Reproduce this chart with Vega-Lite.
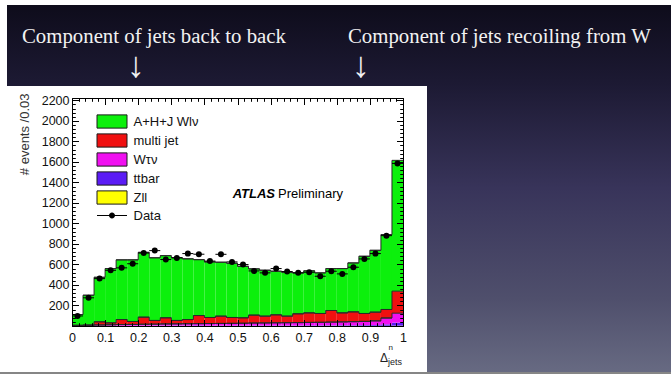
{
  "$schema": "https://vega.github.io/schema/vega-lite/v6.json",
  "width": 331,
  "height": 228,
  "autosize": "none",
  "padding": {"left": 72, "top": 98, "right": 268, "bottom": 49},
  "background": "#ffffff",
  "config": {
    "view": {"stroke": null},
    "font": "Liberation Sans",
    "axis": {"grid": false, "domainColor": "#000000", "domainWidth": 1, "tickColor": "#000000", "tickWidth": 1, "labelFont": "Liberation Sans", "labelFontSize": 12.5, "labelColor": "#111111", "titleFont": "Liberation Sans"}
  },
  "data": {
    "values": [
      {"lo": 0, "hi": 0.0333, "zll": 1, "tt": 1, "wtn": 2, "mj": 3, "wlnu": 105, "data": 98},
      {"lo": 0.0333, "hi": 0.0667, "zll": 1, "tt": 1, "wtn": 3, "mj": 5, "wlnu": 290, "data": 275},
      {"lo": 0.0667, "hi": 0.1, "zll": 1, "tt": 2, "wtn": 7, "mj": 31, "wlnu": 434, "data": 462},
      {"lo": 0.1, "hi": 0.1333, "zll": 1, "tt": 2, "wtn": 9, "mj": 19, "wlnu": 529, "data": 543},
      {"lo": 0.1333, "hi": 0.1667, "zll": 1, "tt": 2, "wtn": 11, "mj": 49, "wlnu": 582, "data": 567},
      {"lo": 0.1667, "hi": 0.2, "zll": 1, "tt": 2, "wtn": 12, "mj": 29, "wlnu": 601, "data": 607},
      {"lo": 0.2, "hi": 0.2333, "zll": 1, "tt": 2, "wtn": 14, "mj": 69, "wlnu": 632, "data": 711},
      {"lo": 0.2333, "hi": 0.2667, "zll": 1, "tt": 2, "wtn": 15, "mj": 36, "wlnu": 611, "data": 735},
      {"lo": 0.2667, "hi": 0.3, "zll": 1, "tt": 3, "wtn": 16, "mj": 60, "wlnu": 606, "data": 648},
      {"lo": 0.3, "hi": 0.3333, "zll": 1, "tt": 3, "wtn": 17, "mj": 33, "wlnu": 613, "data": 664},
      {"lo": 0.3333, "hi": 0.3667, "zll": 1, "tt": 3, "wtn": 18, "mj": 41, "wlnu": 592, "data": 706},
      {"lo": 0.3667, "hi": 0.4, "zll": 1, "tt": 3, "wtn": 19, "mj": 79, "wlnu": 545, "data": 700},
      {"lo": 0.4, "hi": 0.4333, "zll": 1, "tt": 3, "wtn": 20, "mj": 59, "wlnu": 542, "data": 633},
      {"lo": 0.4333, "hi": 0.4667, "zll": 1, "tt": 3, "wtn": 21, "mj": 71, "wlnu": 526, "data": 699},
      {"lo": 0.4667, "hi": 0.5, "zll": 1, "tt": 3, "wtn": 22, "mj": 57, "wlnu": 529, "data": 625},
      {"lo": 0.5, "hi": 0.5333, "zll": 1, "tt": 3, "wtn": 23, "mj": 53, "wlnu": 502, "data": 599},
      {"lo": 0.5333, "hi": 0.5667, "zll": 1, "tt": 4, "wtn": 24, "mj": 77, "wlnu": 451, "data": 537},
      {"lo": 0.5667, "hi": 0.6, "zll": 1, "tt": 4, "wtn": 25, "mj": 66, "wlnu": 448, "data": 518},
      {"lo": 0.6, "hi": 0.6333, "zll": 1, "tt": 4, "wtn": 26, "mj": 78, "wlnu": 425, "data": 560},
      {"lo": 0.6333, "hi": 0.6667, "zll": 1, "tt": 4, "wtn": 27, "mj": 64, "wlnu": 428, "data": 531},
      {"lo": 0.6667, "hi": 0.7, "zll": 1, "tt": 4, "wtn": 28, "mj": 86, "wlnu": 399, "data": 518},
      {"lo": 0.7, "hi": 0.7333, "zll": 1, "tt": 5, "wtn": 29, "mj": 93, "wlnu": 410, "data": 524},
      {"lo": 0.7333, "hi": 0.7667, "zll": 1, "tt": 5, "wtn": 30, "mj": 86, "wlnu": 396, "data": 485},
      {"lo": 0.7667, "hi": 0.8, "zll": 2, "tt": 5, "wtn": 31, "mj": 113, "wlnu": 409, "data": 534},
      {"lo": 0.8, "hi": 0.8333, "zll": 2, "tt": 6, "wtn": 32, "mj": 88, "wlnu": 432, "data": 508},
      {"lo": 0.8333, "hi": 0.8667, "zll": 2, "tt": 6, "wtn": 34, "mj": 96, "wlnu": 477, "data": 573},
      {"lo": 0.8667, "hi": 0.9, "zll": 2, "tt": 7, "wtn": 36, "mj": 77, "wlnu": 558, "data": 654},
      {"lo": 0.9, "hi": 0.9333, "zll": 2, "tt": 8, "wtn": 40, "mj": 85, "wlnu": 603, "data": 706},
      {"lo": 0.9333, "hi": 0.9667, "zll": 2, "tt": 14, "wtn": 62, "mj": 83, "wlnu": 730, "data": 881},
      {"lo": 0.9667, "hi": 1, "zll": 3, "tt": 30, "wtn": 92, "mj": 215, "wlnu": 1275, "data": 1585}
    ]
  },
  "transform": [
    {"fold": ["zll", "tt", "wtn", "mj", "wlnu"], "as": ["key", "n"]},
    {"lookup": "key", "from": {"data": {"values": [
      {"key": "zll", "rank": 1, "name": "Zll"},
      {"key": "tt", "rank": 2, "name": "ttbar"},
      {"key": "wtn", "rank": 3, "name": "Wτν"},
      {"key": "mj", "rank": 4, "name": "multi jet"},
      {"key": "wlnu", "rank": 5, "name": "A+H+J Wlν"}
    ]}, "key": "key", "fields": ["rank", "name"]}},
    {"stack": "n", "groupby": ["lo"], "sort": [{"field": "rank", "order": "ascending"}], "as": ["v0", "v1"]}
  ],
  "resolve": {"axis": {"x": "independent", "y": "independent"}},
  "layer": [
    {
      "data": {"values": [{}]},
      "mark": {"type": "rect", "fill": {"gradient": "linear", "x1": 0, "y1": 0, "x2": 0, "y2": 1, "stops": [
        {"offset": 0, "color": "#0e0c1b"},
        {"offset": 0.22, "color": "#1d1a34"},
        {"offset": 0.5, "color": "#38345a"},
        {"offset": 0.8, "color": "#4f4f6c"},
        {"offset": 1, "color": "#676a82"}
      ]}},
      "encoding": {"x": {"value": -65}, "x2": {"value": 599}, "y": {"value": -93}, "y2": {"value": 274}}
    },
    {
      "data": {"values": [{}]},
      "mark": {"type": "rect", "fill": "#ffffff"},
      "encoding": {"x": {"value": -72}, "x2": {"value": 355}, "y": {"value": -12}, "y2": {"value": 274}}
    },
    {
      "data": {"values": [{}]},
      "mark": {"type": "rule", "color": "#5e5e5e", "strokeWidth": 1.5},
      "encoding": {"x": {"value": -72}, "x2": {"value": 599}, "y": {"value": 275}}
    },
    {
      "mark": {"type": "rect"},
      "encoding": {
        "x": {"field": "lo", "type": "quantitative", "scale": {"domain": [0, 1], "nice": false, "zero": false},
          "axis": {"orient": "bottom", "zindex": 2, "values": [0, 0.1, 0.2, 0.3, 0.4, 0.5, 0.6, 0.7, 0.8, 0.9, 1], "format": "~g", "ticks": false, "tickSize": 0, "domain": true, "labelPadding": 5, "labelFlush": false, "labelOverlap": false, "title": null}},
        "x2": {"field": "hi"},
        "y": {"field": "v1", "type": "quantitative", "scale": {"domain": [0, 2223], "nice": false},
          "axis": {"orient": "left", "zindex": 2, "values": [200, 400, 600, 800, 1000, 1200, 1400, 1600, 1800, 2000, 2200], "format": "d", "ticks": false, "tickSize": 0, "domain": true, "labelPadding": 3, "labelOverlap": false,
            "title": "# events /0.03", "titleFontSize": 13, "titleFontWeight": "normal", "titleColor": "#333333", "titleAngle": 270, "titleAlign": "right", "titleBaseline": "middle", "titleX": -48, "titleY": -5}},
        "y2": {"field": "v0"},
        "color": {"field": "name", "type": "nominal",
          "scale": {"domain": ["A+H+J Wlν", "multi jet", "Wτν", "ttbar", "Zll", "Data"], "range": ["#0cf00c", "#f01010", "#f010f0", "#5b1cf5", "#ffff00", "#000000"]},
          "legend": {"orient": "none", "legendX": 32, "legendY": 15.5, "title": null, "padding": 0, "labelFont": "Liberation Sans", "labelFontSize": 13, "labelColor": "#111111", "labelOffset": 13.5, "symbolSize": 225, "rowPadding": 1, "symbolOpacity": 1, "zindex": 2,
            "encode": {"symbols": {"update": {
              "shape": {"signal": "datum.value === 'Data' ? 'M-2,-0.07H2V0.07H-2Z M0.4,0A0.4,0.4 0 1,1 -0.4,0A0.4,0.4 0 1,1 0.4,0Z' : 'M-2,-0.88H2V0.88H-2Z'"},
              "stroke": {"signal": "datum.value === 'Data' ? 'transparent' : '#1a1a1a'"},
              "strokeWidth": {"value": 1}
            }}}}
        }
      }
    },
    {
      "transform": [{"filter": {"field": "rank", "gte": 3}}],
      "mark": {"type": "rule", "color": "#2a2a2a", "strokeWidth": 1},
      "encoding": {
        "x": {"field": "lo", "type": "quantitative", "scale": {"domain": [0, 1], "nice": false, "zero": false},
          "axis": {"orient": "bottom", "zindex": 2, "values": [0, 0.1, 0.2, 0.3, 0.4, 0.5, 0.6, 0.7, 0.8, 0.9, 1], "labels": false, "domain": false, "tickSize": -6.5, "title": null}},
        "x2": {"field": "hi"},
        "y": {"field": "v1", "type": "quantitative", "scale": {"domain": [0, 2223], "nice": false},
          "axis": {"orient": "left", "zindex": 2, "values": [0, 200, 400, 600, 800, 1000, 1200, 1400, 1600, 1800, 2000, 2200], "labels": false, "domain": false, "tickSize": -6.5, "title": null}}
      }
    },
    {
      "transform": [{"filter": {"field": "rank", "gte": 3}}],
      "mark": {"type": "line", "color": "#2a2a2a", "strokeWidth": 1, "interpolate": "step-after"},
      "encoding": {
        "x": {"field": "lo", "type": "quantitative", "scale": {"domain": [0, 1], "nice": false, "zero": false},
          "axis": {"orient": "bottom", "zindex": 2, "values": [0, 0.02, 0.04, 0.06, 0.08, 0.1, 0.12, 0.14, 0.16, 0.18, 0.2, 0.22, 0.24, 0.26, 0.28, 0.3, 0.32, 0.34, 0.36, 0.38, 0.4, 0.42, 0.44, 0.46, 0.48, 0.5, 0.52, 0.54, 0.56, 0.58, 0.6, 0.62, 0.64, 0.66, 0.68, 0.7, 0.72, 0.74, 0.76, 0.78, 0.8, 0.82, 0.84, 0.86, 0.88, 0.9, 0.92, 0.94, 0.96, 0.98, 1], "labels": false, "domain": false, "tickSize": -3.3, "title": null}},
        "y": {"field": "v1", "type": "quantitative", "scale": {"domain": [0, 2223], "nice": false},
          "axis": {"orient": "left", "zindex": 2, "values": [0, 40, 80, 120, 160, 200, 240, 280, 320, 360, 400, 440, 480, 520, 560, 600, 640, 680, 720, 760, 800, 840, 880, 920, 960, 1000, 1040, 1080, 1120, 1160, 1200, 1240, 1280, 1320, 1360, 1400, 1440, 1480, 1520, 1560, 1600, 1640, 1680, 1720, 1760, 1800, 1840, 1880, 1920, 1960, 2000, 2040, 2080, 2120, 2160, 2200], "labels": false, "domain": false, "tickSize": -3.3, "title": null}},
        "detail": {"field": "key"}
      }
    },
    {
      "transform": [{"filter": {"field": "key", "equal": "wlnu"}}],
      "mark": {"type": "rule", "color": "#000000", "strokeWidth": 1},
      "encoding": {
        "x": {"field": "lo", "type": "quantitative", "scale": {"domain": [0, 1], "nice": false, "zero": false},
          "axis": {"orient": "top", "zindex": 2, "values": [0, 0.1, 0.2, 0.3, 0.4, 0.5, 0.6, 0.7, 0.8, 0.9, 1], "labels": false, "domain": true, "tickSize": -6.5, "title": null}},
        "x2": {"field": "hi"},
        "y": {"field": "data", "type": "quantitative", "scale": {"domain": [0, 2223], "nice": false},
          "axis": {"orient": "right", "zindex": 2, "values": [0, 200, 400, 600, 800, 1000, 1200, 1400, 1600, 1800, 2000, 2200], "labels": false, "domain": true, "tickSize": -6.5, "title": null}}
      }
    },
    {
      "transform": [{"filter": {"field": "key", "equal": "wlnu"}}],
      "mark": {"type": "point", "filled": true, "shape": "circle", "color": "#000000", "size": 36, "opacity": 1},
      "encoding": {
        "x": {"field": "lo", "type": "quantitative", "bin": "binned", "scale": {"domain": [0, 1], "nice": false, "zero": false},
          "axis": {"orient": "top", "zindex": 2, "values": [0, 0.02, 0.04, 0.06, 0.08, 0.1, 0.12, 0.14, 0.16, 0.18, 0.2, 0.22, 0.24, 0.26, 0.28, 0.3, 0.32, 0.34, 0.36, 0.38, 0.4, 0.42, 0.44, 0.46, 0.48, 0.5, 0.52, 0.54, 0.56, 0.58, 0.6, 0.62, 0.64, 0.66, 0.68, 0.7, 0.72, 0.74, 0.76, 0.78, 0.8, 0.82, 0.84, 0.86, 0.88, 0.9, 0.92, 0.94, 0.96, 0.98, 1], "labels": false, "domain": false, "tickSize": -3.3, "title": null}},
        "x2": {"field": "hi"},
        "y": {"field": "data", "type": "quantitative", "scale": {"domain": [0, 2223], "nice": false},
          "axis": {"orient": "right", "zindex": 2, "values": [0, 40, 80, 120, 160, 200, 240, 280, 320, 360, 400, 440, 480, 520, 560, 600, 640, 680, 720, 760, 800, 840, 880, 920, 960, 1000, 1040, 1080, 1120, 1160, 1200, 1240, 1280, 1320, 1360, 1400, 1440, 1480, 1520, 1560, 1600, 1640, 1680, 1720, 1760, 1800, 1840, 1880, 1920, 1960, 2000, 2040, 2080, 2120, 2160, 2200], "labels": false, "domain": false, "tickSize": -3.3, "title": null}}
      }
    },
    {
      "data": {"values": [{}]},
      "mark": {"type": "text", "text": "ATLAS", "font": "Liberation Sans", "fontSize": 13, "fontWeight": "bold", "fontStyle": "italic", "align": "right", "baseline": "middle", "color": "#000000"},
      "encoding": {"x": {"value": 203}, "y": {"value": 96}}
    },
    {
      "data": {"values": [{}]},
      "mark": {"type": "text", "text": "Preliminary", "font": "Liberation Sans", "fontSize": 13, "align": "left", "baseline": "middle", "color": "#000000"},
      "encoding": {"x": {"value": 206}, "y": {"value": 96}}
    },
    {
      "data": {"values": [{}]},
      "mark": {"type": "text", "text": "Δ", "font": "Liberation Sans", "fontSize": 12, "align": "left", "baseline": "alphabetic", "color": "#222222"},
      "encoding": {"x": {"value": 308}, "y": {"value": 264}}
    },
    {
      "data": {"values": [{}]},
      "mark": {"type": "text", "text": "n", "font": "Liberation Sans", "fontSize": 8, "align": "left", "baseline": "alphabetic", "color": "#222222"},
      "encoding": {"x": {"value": 316.5}, "y": {"value": 252}}
    },
    {
      "data": {"values": [{}]},
      "mark": {"type": "text", "text": "jets", "font": "Liberation Sans", "fontSize": 9, "align": "left", "baseline": "alphabetic", "color": "#222222"},
      "encoding": {"x": {"value": 316}, "y": {"value": 267}}
    },
    {
      "data": {"values": [{}]},
      "mark": {"type": "text", "text": "Component of jets back to back", "font": "Liberation Serif", "fontSize": 20.8, "align": "left", "baseline": "alphabetic", "color": "#f2f2f2"},
      "encoding": {"x": {"value": -50}, "y": {"value": -55}}
    },
    {
      "data": {"values": [{}]},
      "mark": {"type": "text", "text": "Component of jets recoiling from W", "font": "Liberation Serif", "fontSize": 20.8, "align": "left", "baseline": "alphabetic", "color": "#f2f2f2"},
      "encoding": {"x": {"value": 276}, "y": {"value": -55}}
    },
    {
      "data": {"values": [{}]},
      "mark": {"type": "text", "text": "↓", "font": "Liberation Serif", "fontSize": 36, "align": "center", "baseline": "middle", "color": "#f2f2f2"},
      "encoding": {"x": {"value": 64}, "y": {"value": -32}}
    },
    {
      "data": {"values": [{}]},
      "mark": {"type": "text", "text": "↓", "font": "Liberation Serif", "fontSize": 36, "align": "center", "baseline": "middle", "color": "#f2f2f2"},
      "encoding": {"x": {"value": 289}, "y": {"value": -32}}
    }
  ]
}
